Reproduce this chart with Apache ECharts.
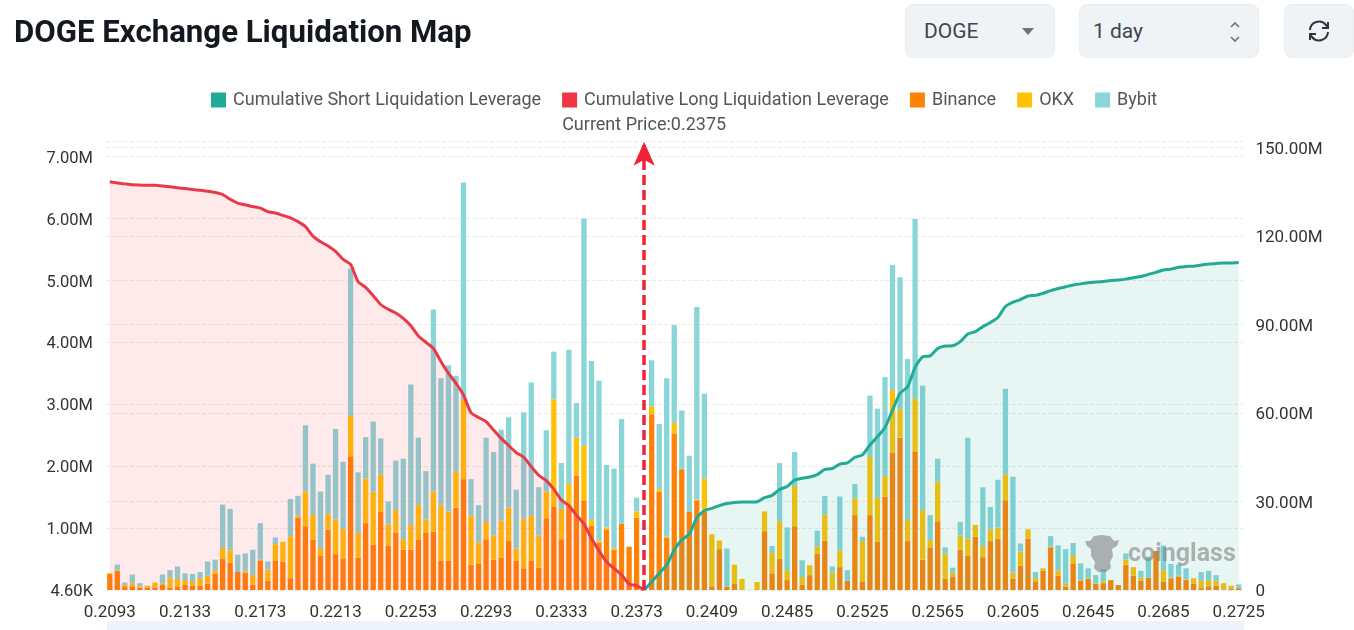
<!DOCTYPE html>
<html>
<head>
<meta charset="utf-8">
<title>DOGE Exchange Liquidation Map</title>
<script src="https://cdn.jsdelivr.net/npm/echarts@6/dist/echarts.min.js"></script>
<style>
  html, body { margin: 0; padding: 0; background: #fff; overflow: hidden; }
  #chart { position: absolute; left: 0; top: 0; width: 1354px; height: 630px; }
  .ctl { position: absolute; top: 4px; height: 54px; box-sizing: border-box; background: #f0f3f6;
    border: 1px solid #e9edf0; border-radius: 8px; font: 21px Roboto, sans-serif; color: #3c4650; line-height: 52px; }
  #slider { position: absolute; left: 107px; top: 621px; width: 1137px; height: 9px; background: #eef2fb; }
</style>
</head>
<body>
<div id="chart"></div>
<div id="slider"></div>
<div class="ctl" style="left:905px;width:150px;padding-left:18px">DOGE
  <svg style="position:absolute;left:116px;top:23px" width="12" height="8"><path d="M0 0H12L6 7Z" fill="#6b7480"/></svg>
</div>
<div class="ctl" style="left:1079px;width:180px;padding-left:13px">1 day
  <svg style="position:absolute;left:148px;top:15px" width="14" height="24" fill="none" stroke="#6b7480" stroke-width="1.6"><path d="M3 7L7 3L11 7M3 17L7 21L11 17"/></svg>
</div>
<div class="ctl" style="left:1284px;width:70px">
  <svg style="position:absolute;left:22px;top:14px" width="24" height="24" fill="none" stroke="#2c3640" stroke-width="2"><path d="M3 11A9 9 0 0 1 19 6L21 9M21 3V9H15M21 13A9 9 0 0 1 5 18L3 15M3 21V15H9"/></svg>
</div>
<script>
// x axis labels, one every 10 bars
const priceTicks = ['0.2093', '0.2133', '0.2173', '0.2213', '0.2253', '0.2293', '0.2333', '0.2373',
  '0.2409', '0.2485', '0.2525', '0.2565', '0.2605', '0.2645', '0.2685', '0.2725'];
const leftTicks = ['4.60K', '1.00M', '2.00M', '3.00M', '4.00M', '5.00M', '6.00M', '7.00M'];
const rightTicks = ['0', '30.00M', '60.00M', '90.00M', '120.00M', '150.00M'];
const currentPrice = '0.2375';
const currentIndex = 71;

// per exchange liquidation, in millions, one value per price level
const binance = [.26, .31, .06, .06, .04, .04, .04, .08, .04, .05,
  .08, .07, .07, .10, .26, .50, .44, .29, .28, .09,
  .48, .15, .48, .46, .19, 1.17, 1.03, .81, .55, .97,
  .58, .50, 2.16, .52, 1.08, .73, 1.26, .71, .92, .65,
  .65, .81, .92, .94, .47, .47, 1.33, 1.79, .41, .42,
  .82, .49, .52, .79, .47, .35, .47, .36, 1.16, 1.34,
  .82, 1.34, 1.85, 1.45, 1.04, .76, .98, .65, 1.07, .70,
  1.17, 0, 2.84, 1.59, .84, 2.52, 1.95, 1.26, 1.45, 1.26,
  .06, .66, .05, .10, 0, 0, 0, .95, .27, .50,
  .16, 1.03, .09, .24, .59, .80, 0, .37, .15, 1.21,
  .13, 1.21, .78, 1.51, 2.22, 2.46, .79, 2.24, .49, .69,
  1.11, .18, .22, .65, .55, .86, .53, .79, .83, 1.45,
  .18, .39, .83, .14, .31, .69, .23, .05, .42, .15,
  .18, .10, .11, .16, .08, .41, .23, .15, .20, .63,
  .13, .19, .22, .16, .10, .03, .06, .07, .01, .02, .03];
const okx = [.01, .01, .02, .05, .02, .03, .08, .02, .15, .13,
  .08, .06, .12, .13, .06, .18, .20, 0, .03, .15,
  .01, .18, .26, .32, .68, .03, .56, .40, .13, .26,
  .56, .49, .65, .40, .72, .86, .60, .35, .37, .17,
  .40, .56, .22, .65, .90, .80, .58, 1.28, .79, .35,
  .28, .39, .60, .54, .20, .80, .73, .52, .43, 1.74,
  .49, .37, .61, .88, .09, .04, .03, .03, 0, 0,
  .10, 0, .13, .04, .02, .18, 0, 0, .01, .54,
  .84, .14, .01, .31, .18, 0, .13, .32, .33, .61,
  .16, .65, .12, .16, .11, .42, .28, .27, 0, .27,
  .66, .94, .71, .33, 1.01, .46, .34, .85, .80, .12,
  .64, .41, .06, .23, .28, .19, .18, .19, .18, .42,
  .10, .23, .15, .05, .04, .01, .09, .05, .13, .01,
  .01, .01, .03, 0, 0, .08, .14, .05, 0, 0,
  .19, .01, .01, .01, .09, .12, .10, .08, .10, .05, 0];
const bybit = [0, .09, .04, .14, .05, 0, 0, .15, .13, .20,
  .11, .13, .10, .23, .17, .70, .67, .28, .28, .41,
  .59, .13, .11, 0, .60, .32, 1.07, .83, .91, .63,
  1.46, 1.08, 2.38, .98, .67, 1.13, .59, .37, .80, 1.30,
  2.27, 1.09, .78, 2.94, 2.05, 2.36, 1.55, 3.51, .59, .60,
  1.36, 1.35, 1.47, 1.46, .95, 1.72, 2.15, .78, .99, .77,
  .74, 2.17, .56, 3.67, 2.57, 2.58, 1.01, 1.28, 1.69, 0,
  .22, 0, .74, 1.05, 2.56, 1.58, .95, .91, 3.11, 1.37,
  0, 0, .61, 0, 0, 0, 0, 0, .11, .94,
  .69, .55, .27, 0, .26, .30, .10, .87, .17, .23,
  .07, .99, 1.44, 1.60, 2.02, 2.13, 2.60, 2.90, 2.01, .40,
  .37, .10, .08, .22, 1.63, 0, .95, .36, .77, 1.38,
  1.55, .13, 0, .10, 0, .17, .40, .56, .21, .27,
  .16, .13, .20, 0, 0, .10, 0, .11, .34, 0,
  .40, .22, .18, .18, 0, .14, .15, .09, 0, 0, .06];

// cumulative leverage, in millions
const longCumulative = [138.4, 138.0, 137.7, 137.4, 137.3, 137.2, 137.2, 137.0, 136.7, 136.4,
  136.1, 135.8, 135.5, 135.2, 134.8, 134.1, 132.5, 131.2, 130.6, 130.0,
  129.5, 128.3, 127.8, 127.0, 126.2, 124.9, 123.2, 120.0, 118.1, 116.6,
  114.8, 112.1, 110.4, 104.5, 102.6, 99.8, 96.8, 95.2, 93.9, 92.1,
  89.6, 86.1, 84.0, 81.9, 77.5, 73.5, 70.1, 66.1, 60.1, 58.5,
  57.1, 54.2, 51.4, 49.0, 46.6, 45.0, 41.8, 38.9, 37.1, 34.2,
  30.5, 28.6, 25.4, 22.4, 17.5, 13.3, 9.6, 7.3, 5.1, 2.0,
  1.5, 0];
const shortCumulative = [0, 2.8, 5.7, 8.5, 13.6, 17.0, 19.0, 24.5, 26.9,
  27.7, 28.6, 29.3, 29.7, 29.8, 29.8, 29.9, 31.3, 32.1, 34.1,
  35.1, 37.3, 37.9, 38.3, 39.1, 40.9, 41.2, 42.7, 43.1, 45.0,
  45.8, 49.2, 52.0, 55.1, 61.0, 66.7, 68.9, 75.5, 79.1, 79.4,
  81.9, 82.7, 82.8, 84.2, 86.8, 87.6, 89.3, 90.7, 92.4, 96.1,
  97.6, 98.5, 99.7, 99.9, 100.6, 101.5, 102.2, 102.8, 103.4, 103.8,
  104.2, 104.4, 104.6, 104.9, 105.1, 105.4, 105.9, 106.3, 107.0, 107.7,
  108.5, 108.8, 109.4, 109.7, 109.8, 110.2, 110.5, 110.7, 110.9, 110.9, 111.0];

let categories = binance.map(function (v, i) {
  return i % 10 === 0 ? priceTicks[i / 10] : '';
});
let longData = longCumulative.concat(new Array(binance.length - longCumulative.length).fill(null));
let shortData = new Array(binance.length - shortCumulative.length).fill(null).concat(shortCumulative);

const RED = '#f23645';
const GREEN = '#22ab94';
const FONT = 'Roboto, sans-serif';

function barSeries(name, data, color) {
  return {
    name: name,
    type: 'bar',
    stack: 'exchange',
    barWidth: 5.3,
    z: 2,
    itemStyle: {color: color},
    data: data
  };
}

// y labels sit a little under their grid line, done with top padding on a rich token
function tickRich(size) {
  return {v: {fontFamily: FONT, fontSize: size, color: '#333', padding: [4, 0, 0, 0]}};
}

let chart = echarts.init(document.getElementById('chart'));
chart.setOption({
  animation: false,
  title: {
    text: 'DOGE Exchange Liquidation Map',
    left: 9,
    top: 14,
    textStyle: {fontFamily: FONT, fontSize: 31.2, fontWeight: 700, color: '#14181f'}
  },
  legend: {
    top: 86,
    left: 206,
    icon: 'rect',
    itemWidth: 15,
    itemHeight: 15,
    itemGap: 21,
    textStyle: {fontFamily: FONT, fontSize: 18, color: '#555', padding: [0, 0, 0, 2]},
    data: ['Cumulative Short Liquidation Leverage', 'Cumulative Long Liquidation Leverage', 'Binance', 'OKX', 'Bybit']
  },
  grid: {left: 106, right: 111.5, top: 141.7, bottom: 40, containLabel: false},
  xAxis: {
    type: 'category',
    data: categories,
    axisLine: {show: false},
    axisTick: {show: false},
    axisLabel: {interval: 9, fontFamily: FONT, fontSize: 17, color: '#333', margin: 14}
  },
  yAxis: [
    {
      type: 'value',
      min: 0,
      max: 7.24,
      interval: 1,
      axisLine: {show: false},
      axisTick: {show: false},
      axisLabel: {
        showMaxLabel: false,
        margin: 13,
        rich: tickRich(16.5),
        formatter: function (v) { return '{v|' + leftTicks[v] + '}'; }
      },
      splitLine: {lineStyle: {type: 'dashed', color: '#eaeaea'}}
    },
    {
      type: 'value',
      min: 0,
      max: 152,
      interval: 30,
      axisLine: {show: false},
      axisTick: {show: false},
      axisLabel: {
        showMaxLabel: false,
        margin: 13,
        rich: tickRich(17),
        formatter: function (v) { return '{v|' + rightTicks[v / 30] + '}'; }
      },
      splitLine: {lineStyle: {type: 'dashed', color: '#eaeaea'}}
    }
  ],
  series: [
    {
      name: 'Cumulative Short Liquidation Leverage',
      type: 'line',
      yAxisIndex: 1,
      z: 3,
      smooth: 0.2,
      showSymbol: false,
      itemStyle: {color: GREEN},
      lineStyle: {color: GREEN, width: 3},
      areaStyle: {color: GREEN, opacity: 0.11},
      data: shortData
    },
    {
      name: 'Cumulative Long Liquidation Leverage',
      type: 'line',
      yAxisIndex: 1,
      z: 3,
      smooth: 0.2,
      showSymbol: false,
      itemStyle: {color: RED},
      lineStyle: {color: '#ea3a4a', width: 3},
      areaStyle: {color: RED, opacity: 0.11},
      data: longData,
      markLine: {
        silent: true,
        symbol: ['none', 'arrow'],
        symbolSize: [16, 24],
        lineStyle: {color: '#f02238', type: [10, 5], width: 3.5},
        label: {
          position: 'end',
          distance: 7,
          formatter: 'Current Price:' + currentPrice,
          fontFamily: FONT,
          fontSize: 18,
          color: '#555'
        },
        data: [{xAxis: currentIndex}]
      }
    },
    barSeries('Binance', binance, '#ff8208'),
    barSeries('OKX', okx, '#ffc107'),
    barSeries('Bybit', bybit, '#8ad5d8')
  ],
  graphic: [
    {
      type: 'text',
      left: 1128,
      top: 542,
      z: 10,
      style: {text: 'coinglass', fontFamily: FONT, fontSize: 25, fontWeight: 700, fill: 'rgba(130,130,130,0.6)'}
    },
    {
      type: 'polygon',
      z: 10,
      shape: {
        points: [[1085, 541], [1090, 541], [1094, 536], [1102, 535], [1110, 536], [1114, 541], [1119, 540], [1117, 546],
          [1112, 549], [1113, 556], [1110, 562], [1111, 568], [1106, 572], [1098, 572], [1094, 568], [1095, 562],
          [1091, 556], [1091, 549], [1087, 546]]
      },
      style: {fill: 'rgba(130,130,130,0.6)'}
    }
  ]
});
</script>
</body>
</html>
